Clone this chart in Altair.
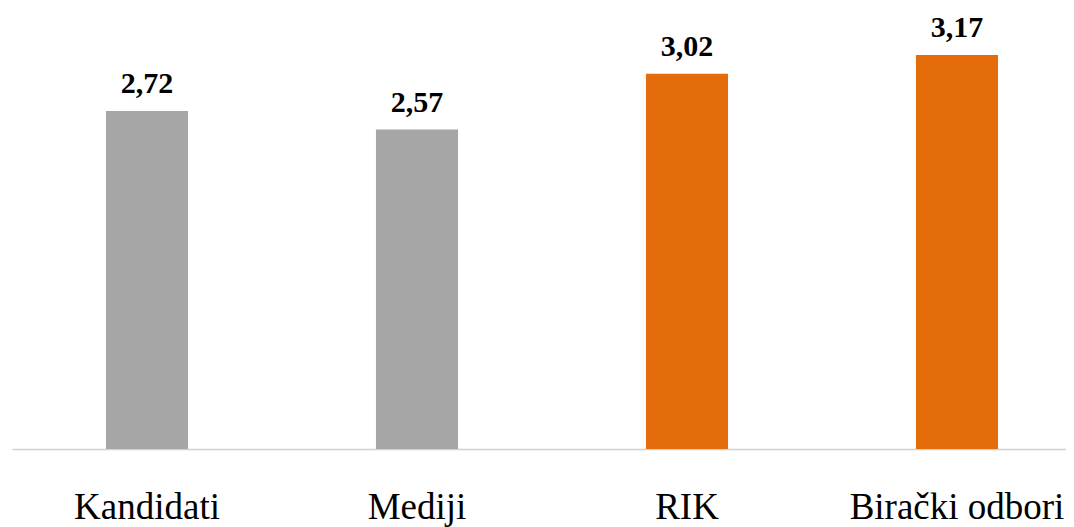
import altair as alt
import pandas as pd

categories = ["Kandidati", "Mediji", "RIK", "Birački odbori"]
values = [2.72, 2.57, 3.02, 3.17]
labels = ["2,72", "2,57", "3,02", "3,17"]
colors = ["#A6A6A6", "#A6A6A6", "#E46C0A", "#E46C0A"]

df = pd.DataFrame({"cat": categories, "val": values, "lab": labels, "col": colors})

FONT = "Liberation Serif"

x = alt.X("cat:N", sort=categories,
          scale=alt.Scale(range=[0, 1080], paddingInner=0.696, paddingOuter=0.348),
          axis=alt.Axis(title=None, labelAngle=0, ticks=False, domainColor="#D0D0D0",
                        domainWidth=1.5, labelFont=FONT, labelFontSize=37, labelColor="#000000",
                        labelPadding=40, labelLimit=0))
y = alt.Y("val:Q", scale=alt.Scale(domain=[0, 3.5], nice=False), axis=None)

bars = alt.Chart(df).mark_bar().encode(x=x, y=y, color=alt.Color("col:N", scale=None))
text = alt.Chart(df).mark_text(dy=-18, baseline="alphabetic", font=FONT, fontSize=30,
                               fontWeight="bold", color="#000000").encode(
    x=alt.X("cat:N", sort=categories), y="val:Q", text="lab:N")

chart = alt.layer(bars, text).properties(
    width=1054, height=435,
    padding={"left": 4, "top": 6, "right": 0, "bottom": 84},
    autosize=alt.AutoSizeParams(type="none"),
).configure_view(stroke=None)

chart.save("out.html", embed_options={"renderer": "svg", "actions": False})
